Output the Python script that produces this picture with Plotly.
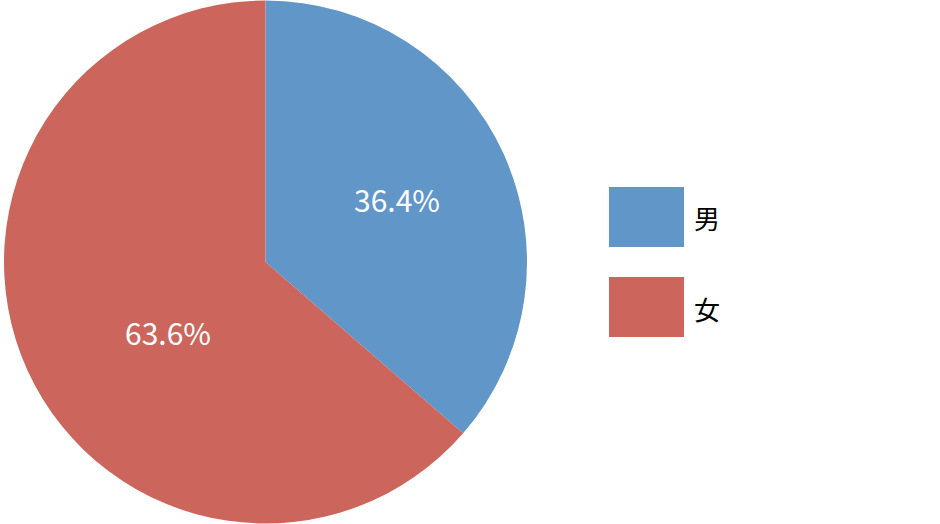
import plotly.graph_objects as go

labels = ["男", "女"]
values = [4, 7]
colors = ["#6196C9", "#CC665D"]

W, H = 940, 524
total = sum(values)
fig = go.Figure()
fig.add_trace(go.Pie(
    labels=labels,
    values=values,
    marker=dict(colors=colors, line=dict(width=0)),
    sort=False,
    direction="clockwise",
    rotation=0,
    textinfo="none",
    hoverinfo="label+percent",
    showlegend=False,
    domain=dict(x=[4 / W, 527 / W], y=[0, 1]),
))

# data labels (text from the values; placement as in the reference)
label_pos = [(397, 199), (168, 332)]
for v, (px, py) in zip(values, label_pos):
    fig.add_annotation(xref="paper", yref="paper", x=px / W, y=1 - py / H,
                       xanchor="center", yanchor="middle", showarrow=False,
                       text=f"{v / total * 100:.1f}%",
                       font=dict(family="Noto Sans CJK JP", size=30, color="white"))

# custom legend with large swatches
sw_x0, sw_x1 = 609 / W, 684 / W
tops = [187, 277]
for lab, col, top in zip(labels, colors, tops):
    fig.add_shape(type="rect", xref="paper", yref="paper",
                  x0=sw_x0, x1=sw_x1, y0=1 - (top + 60) / H, y1=1 - top / H,
                  fillcolor=col, line=dict(width=0))
    fig.add_annotation(xref="paper", yref="paper", x=692 / W, y=1 - (top + 31) / H,
                       xanchor="left", yanchor="middle", showarrow=False,
                       text=lab, font=dict(family="Noto Sans CJK JP", size=26, color="black"))

fig.update_layout(
    width=W, height=H,
    margin=dict(l=0, r=0, t=0, b=0),
    paper_bgcolor="white", plot_bgcolor="white",
)
fig.write_html("out.html", config={"displayModeBar": False},
               post_script="document.body.style.margin='0';")
